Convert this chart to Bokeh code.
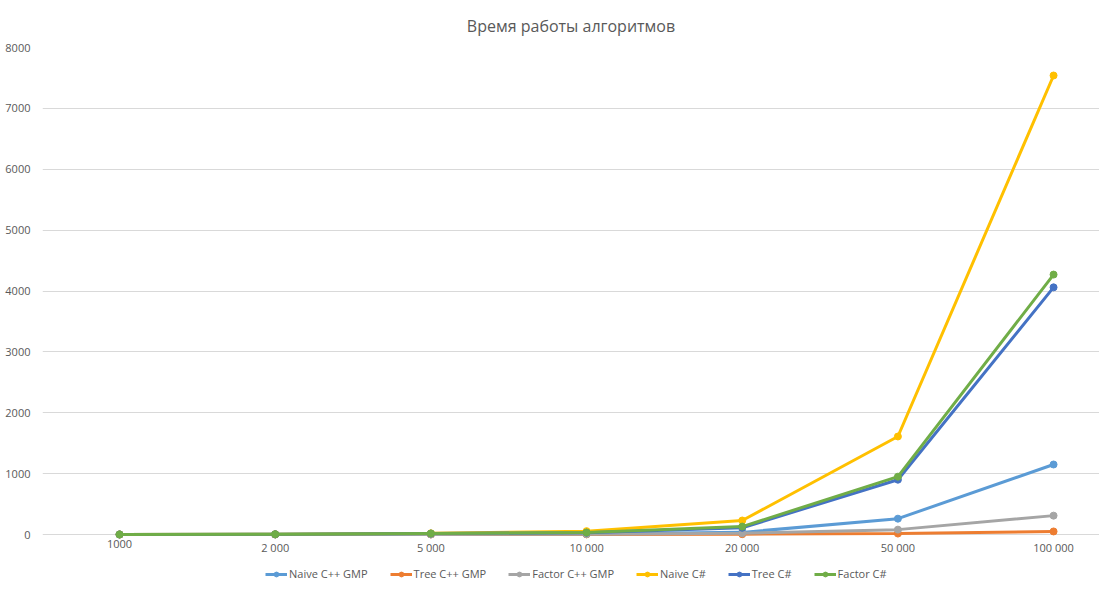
from bokeh.plotting import figure
from bokeh.models import Range1d, FixedTicker, Legend, LegendItem
from bokeh.core.properties import value
from bokeh.embed import file_html
from bokeh.resources import INLINE

title = "Время работы алгоритмов"
sizes = ["1000", "2 000", "5 000", "10 000", "20 000", "50 000", "100 000"]
series_names = ["Naive C++ GMP", "Tree C++ GMP", "Factor C++ GMP", "Naive C#", "Tree C#", "Factor C#"]
naive_cpp = [0.2, 0.8, 3, 8, 35, 260, 1150]
tree_cpp = [0.1, 0.3, 1, 2, 5, 15, 50]
factor_cpp = [0.1, 0.5, 2, 5, 20, 80, 310]
naive_cs = [1, 5, 20, 55, 230, 1610, 7540]
tree_cs = [1, 4, 15, 30, 110, 900, 4060]
factor_cs = [1, 4, 16, 32, 130, 950, 4270]
y_ticks = [0, 1000, 2000, 3000, 4000, 5000, 6000, 7000, 8000]
colors = ["#5B9BD5", "#ED7D31", "#A5A5A5", "#FFC000", "#4472C4", "#70AD47"]
series = [naive_cpp, tree_cpp, factor_cpp, naive_cs, tree_cs, factor_cs]

xs = list(range(len(sizes)))
# frame runs down to the page bottom; value 0 sits 56 px above it
y_bottom = -56 * 8000 / 487

p = figure(frame_width=1057, frame_height=543, output_backend="svg", toolbar_location=None,
           x_range=Range1d(-0.495, 6.295), y_range=Range1d(y_bottom, 8000),
           x_axis_location=None,
           min_border_left=42, min_border_right=0, min_border_top=47, min_border_bottom=0)
p.outline_line_color = None
p.background_fill_color = "white"
p.border_fill_color = "white"

p.title.text = title
p.title.align = "center"
p.title.text_font = "Open Sans"
p.title.text_font_size = "16px"
p.title.text_font_style = "normal"
p.title.text_color = "#595959"
p.title.offset = 0
p.title.standoff = 22

items = []
for name, vals, c in zip(series_names, series, colors):
    r1 = p.line(xs, vals, line_color=c, line_width=3)
    r2 = p.scatter(xs, vals, size=7, fill_color=c, line_color=c)
    items.append(LegendItem(label=name, renderers=[r1, r2]))

# category labels under the zero line
p.text(xs, [0] * len(xs), text=sizes, text_font=value("Open Sans"), text_font_size="11px",
       text_color="#595959", text_align="center", text_baseline="top", y_offset=5)

legend = Legend(items=items, orientation="horizontal", location=(223, 9),
                label_text_font="Open Sans", label_text_font_size="11px",
                label_text_color="#595959", glyph_width=22, glyph_height=12, spacing=22,
                border_line_color=None, background_fill_alpha=0, padding=0, margin=0,
                label_standoff=2, label_height=12)
p.add_layout(legend, "center")

p.yaxis.ticker = FixedTicker(ticks=y_ticks)
ax = p.yaxis[0]
ax.axis_line_color = None
ax.major_tick_line_color = None
ax.minor_tick_line_color = None
ax.major_label_text_font = "Open Sans"
ax.major_label_text_font_size = "11px"
ax.major_label_text_color = "#595959"
ax.major_label_standoff = 6
for g in p.grid:
    if g.dimension == 0:
        g.visible = False
    else:
        g.grid_line_color = "#D9D9D9"
        g.ticker = FixedTicker(ticks=y_ticks)

open("out.html", "w").write(file_html(p, INLINE))
